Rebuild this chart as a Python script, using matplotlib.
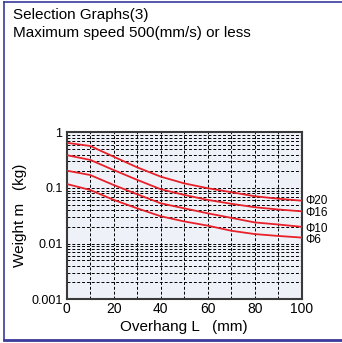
import matplotlib
matplotlib.use("Agg")
import matplotlib.pyplot as plt
from matplotlib.lines import Line2D
from matplotlib.ticker import FixedLocator, LogLocator, NullFormatter

# overhang L (mm)
overhang = [0, 10, 20, 30, 40, 50, 60, 70, 80, 90, 100]

# weight m (kg) for each rod diameter
phi20 = [0.65, 0.57, 0.365, 0.235, 0.16, 0.121, 0.099, 0.084, 0.071, 0.064, 0.059]
phi16 = [0.39, 0.32, 0.21, 0.14, 0.095, 0.075, 0.061, 0.052, 0.045, 0.041, 0.038]
phi10 = [0.205, 0.171, 0.113, 0.077, 0.053, 0.043, 0.035, 0.029, 0.024, 0.022, 0.020]
phi6 = [0.118, 0.092, 0.061, 0.043, 0.031, 0.025, 0.021, 0.017, 0.0148, 0.0137, 0.0128]

series = [("Φ20", phi20), ("Φ16", phi16), ("Φ10", phi10), ("Φ6", phi6)]

x_ticks = [0, 20, 40, 60, 80, 100]
y_ticks = [0.001, 0.01, 0.1, 1]
y_tick_labels = ["0.001", "0.01", "0.1", "1"]

plt.rcParams['font.family'] = ['Liberation Sans', 'DejaVu Sans']

fig = plt.figure(figsize=(3.42, 3.43), dpi=100)
ax = fig.add_axes([0.195, 0.128, 0.687, 0.486])
ax.set_facecolor('#eef2f8')

for name, vals in series:
    ax.plot(overhang, vals, color='#e8202a', linewidth=1.3, zorder=3)

ax.set_yscale('log')
ax.set_xlim(0, 100)
ax.set_ylim(0.001, 1)

ax.xaxis.set_major_locator(FixedLocator(x_ticks))
ax.xaxis.set_minor_locator(FixedLocator(list(range(10, 100, 10))))
ax.set_xticklabels([str(t) for t in x_ticks], fontsize=10)
ax.yaxis.set_major_locator(FixedLocator(y_ticks))
ax.yaxis.set_minor_locator(LogLocator(base=10, subs=range(2, 10)))
ax.yaxis.set_minor_formatter(NullFormatter())
ax.set_yticklabels(y_tick_labels, fontsize=9)
ax.tick_params(axis='x', which='both', length=0, pad=2)
ax.tick_params(axis='y', which='both', length=0, pad=3)

ax.grid(True, which='both', color='black', linestyle=(0, (3, 2)), linewidth=0.7)
for s in ax.spines.values():
    s.set_color('#3a3a3a')
    s.set_linewidth(1.5)

ax.set_xlabel('Overhang L   (mm)', fontsize=11, labelpad=3)
ax.set_ylabel('Weight m   (kg)', fontsize=11, labelpad=3)

offsets = [0, -1, -1.5, -2]
for (name, vals), dy in zip(series, offsets):
    ax.annotate(name, xy=(100, vals[-1]), xytext=(3, dy), textcoords='offset points',
                fontsize=8.5, va='center', ha='left', annotation_clip=False)

fig.text(0.038, 0.957, 'Selection Graphs(3)', fontsize=11, va='center')
fig.text(0.038, 0.904, 'Maximum speed 500(mm/s) or less', fontsize=11, va='center')

# blue frame round the figure
fig.add_artist(Line2D([0.012, 1.0], [0.994, 0.994], color='#3b3b9b', linewidth=1.2))
fig.add_artist(Line2D([0.012, 0.012], [0.994, 0.009], color='#3b3b9b', linewidth=1.2))
fig.add_artist(Line2D([0.012, 1.0], [0.009, 0.009], color='#3b3b9b', linewidth=2))

fig.savefig('out.png', dpi=100)
